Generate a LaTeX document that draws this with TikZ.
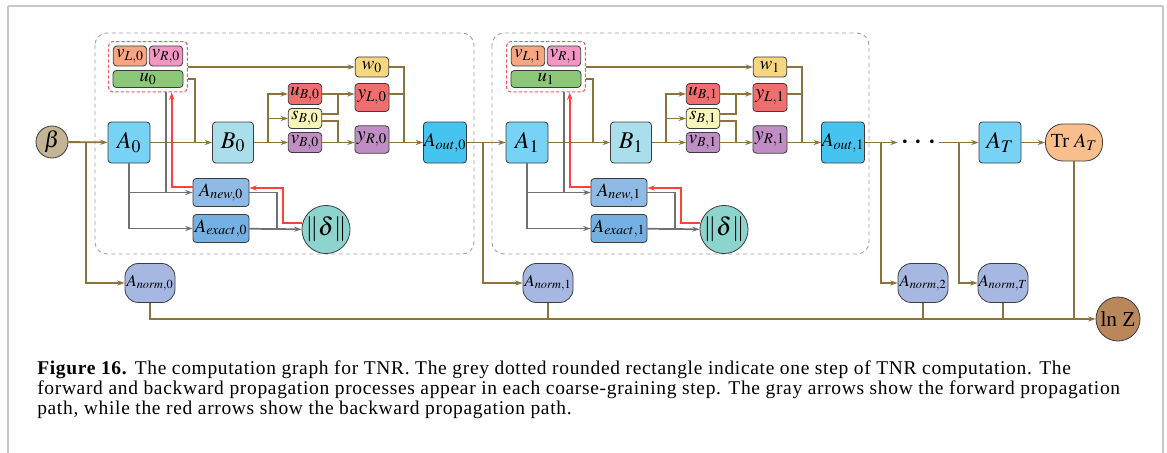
\documentclass[tikz,border=0pt]{standalone}
\usepackage{mathptmx}
\usepackage{fontspec}
\setmainfont{Liberation Serif}
\newfontfamily\capfont[LetterSpace=3.5]{Liberation Serif}
\usetikzlibrary{arrows.meta,fit,calc}
\definecolor{brn}{RGB}{140,114,60}
\definecolor{gry}{RGB}{112,112,112}
\definecolor{redl}{RGB}{250,65,60}
\definecolor{bord}{RGB}{60,60,60}
\definecolor{cbeta}{RGB}{196,180,150}
\definecolor{cA}{RGB}{120,210,245}
\definecolor{cB}{RGB}{170,222,235}
\definecolor{cAout}{RGB}{70,196,240}
\definecolor{cvL}{RGB}{247,166,130}
\definecolor{cvR}{RGB}{243,150,195}
\definecolor{cu}{RGB}{140,200,120}
\definecolor{cw}{RGB}{247,214,130}
\definecolor{cuB}{RGB}{240,110,110}
\definecolor{csB}{RGB}{249,246,185}
\definecolor{cvB}{RGB}{192,142,196}
\definecolor{cAnew}{RGB}{143,186,230}
\definecolor{cAex}{RGB}{116,176,226}
\definecolor{cdel}{RGB}{140,212,205}
\definecolor{cnorm}{RGB}{166,184,226}
\definecolor{cTr}{RGB}{248,190,140}
\definecolor{clnZ}{RGB}{185,135,90}
\definecolor{dashg}{RGB}{160,160,160}
\definecolor{dashr}{RGB}{240,90,90}
\definecolor{framec}{RGB}{200,200,200}
\begin{document}
\begin{tikzpicture}[x=0.75pt,y=-0.75pt,
  >={Stealth[length=5.5pt,width=3.8pt]},
  bx/.style={draw=bord,line width=0.6pt,rounded corners=2.5pt,inner sep=0pt},
  bigbox/.style={bx,minimum width=31.5pt,minimum height=30.75pt,font=\fontsize{18}{18}\selectfont},
  sm/.style={bx,minimum width=25pt,minimum height=15pt,font=\fontsize{14}{14}\selectfont},
  yb/.style={bx,minimum width=25.5pt,minimum height=20.5pt,font=\fontsize{15}{15}\selectfont},
  an/.style={bx,minimum width=42pt,minimum height=21pt,font=\fontsize{14}{14}\selectfont},
  nrm/.style={bx,rounded corners=10pt,minimum width=37.5pt,minimum height=29.25pt,fill=cnorm,font=\fontsize{12.5}{12.5}\selectfont},
  circ/.style={circle,draw=bord,line width=0.6pt,inner sep=0pt},
  br/.style={draw=brn,line width=1.4pt},
  brt/.style={draw=brn,line width=1pt},
  gr/.style={draw=gry,line width=1.3pt},
  rd/.style={draw=redl,line width=1.3pt},
  stepbox/.style={draw=dashg,dash pattern=on 3pt off 2.5pt,line width=0.7pt,rounded corners=9pt},
  grp/.style={draw=dashr,dash pattern=on 2.5pt off 1.5pt,line width=0.8pt,rounded corners=3pt,inner sep=3pt},
  framel/.style={draw=framec,line width=1.1pt}
]
\useasboundingbox (0,0) rectangle (1167,453);
% page frame
\draw[framel] (8,6) -- (1163,6);
\draw[framel] (8,6) -- (8,453);
\draw[framel] (1163,6) -- (1163,453);
% step boxes
\draw[stepbox] (95,33) rectangle (474,254);
\draw[stepbox] (492,33) rectangle (869,254);

% ---------- nodes ----------
\node[circ,minimum size=24pt,fill=cbeta,font=\fontsize{17}{17}\selectfont] (beta) at (52,142) {$\beta$};
% step 0
\node[bigbox,fill=cA] (A0) at (129,142.5) {$A_0$};
\node[bigbox,fill=cB,minimum width=30.75pt] (B0) at (233,142.5) {$B_0$};
\node[bigbox,fill=cAout,minimum width=32.25pt,font=\fontsize{14.5}{14.5}\selectfont] (Aout0) at (445,142.5) {$A_{out,0}$};
\node[sm,fill=cvL] (vL0) at (130,56) {$v_{L,0}$};
\node[sm,fill=cvR] (vR0) at (166,56) {$v_{R,0}$};
\node[sm,fill=cu,minimum width=52.5pt,minimum height=12.75pt] (u0) at (148,79) {$u_0$};
\node[grp,fit=(vL0)(vR0)(u0)] (g0) {};
\node[sm,fill=cw] (w0) at (372,67) {$w_0$};
\node[sm,fill=cuB,minimum height=15.75pt] (uB0) at (305,94) {$u_{B,0}$};
\node[sm,fill=csB] (sB0) at (305,118.5) {$s_{B,0}$};
\node[sm,fill=cvB] (vB0) at (305,142.5) {$v_{B,0}$};
\node[yb,fill=cuB,minimum height=21pt] (yL0) at (372,97.5) {$y_{L,0}$};
\node[yb,fill=cvB] (yR0) at (372,139.5) {$y_{R,0}$};
\node[an,fill=cAnew] (Anew0) at (221,192.5) {$A_{new,0}$};
\node[an,fill=cAex] (Aex0) at (221,228.5) {$A_{exact,0}$};
\node[circ,minimum size=31.5pt,fill=cdel,font=\fontsize{19}{19}\selectfont] (del0) at (326,229.5) {$\|\delta\|$};
\node[nrm] (An0) at (150,283) {$A_{norm,0}$};
% step 1
\node[bigbox,fill=cA] (A1) at (527,142.5) {$A_1$};
\node[bigbox,fill=cB,minimum width=30.75pt] (B1) at (631,142.5) {$B_1$};
\node[bigbox,fill=cAout,minimum width=32.25pt,font=\fontsize{14.5}{14.5}\selectfont] (Aout1) at (843,142.5) {$A_{out,1}$};
\node[sm,fill=cvL] (vL1) at (528,56) {$v_{L,1}$};
\node[sm,fill=cvR] (vR1) at (564,56) {$v_{R,1}$};
\node[sm,fill=cu,minimum width=52.5pt,minimum height=12.75pt] (u1) at (546,79) {$u_1$};
\node[grp,fit=(vL1)(vR1)(u1)] (g1) {};
\node[sm,fill=cw] (w1) at (770,67) {$w_1$};
\node[sm,fill=cuB,minimum height=15.75pt] (uB1) at (703,94) {$u_{B,1}$};
\node[sm,fill=csB] (sB1) at (703,118.5) {$s_{B,1}$};
\node[sm,fill=cvB] (vB1) at (703,142.5) {$v_{B,1}$};
\node[yb,fill=cuB,minimum height=21pt] (yL1) at (770,97.5) {$y_{L,1}$};
\node[yb,fill=cvB] (yR1) at (770,139.5) {$y_{R,1}$};
\node[an,fill=cAnew] (Anew1) at (619,192.5) {$A_{new,1}$};
\node[an,fill=cAex] (Aex1) at (619,228.5) {$A_{exact,1}$};
\node[circ,minimum size=31.5pt,fill=cdel,font=\fontsize{19}{19}\selectfont] (del1) at (724,229.5) {$\|\delta\|$};
\node[nrm] (An1) at (548,283) {$A_{norm,1}$};
% tail
\node[inner sep=0pt,minimum width=30.75pt,minimum height=10pt,font=\fontsize{26}{26}\selectfont] (dots) at (918.5,142.5) {$\cdots$};
\node[bigbox,fill=cA] (AT) at (1000,142.5) {$A_T$};
\node[bx,rounded corners=13pt,minimum width=42.75pt,minimum height=27.75pt,fill=cTr,font=\fontsize{15}{15}\selectfont] (TrAT) at (1074,142.5) {Tr $A_T$};
\node[nrm] (An2) at (923,283) {$A_{norm,2}$};
\node[nrm] (AnT) at (1003,283) {$A_{norm,T}$};
\node[circ,minimum size=33pt,fill=clnZ,font=\fontsize{16}{16}\selectfont] (lnZ) at (1118,319) {ln Z};

% ---------- helper coordinates ----------
\coordinate (J0) at (86,142.5);
\coordinate (m0) at (195,142.5);
\coordinate (s0) at (268,142.5);
\coordinate (k0) at (338,94);
\coordinate (k0b) at (338,142.5);
\coordinate (q0) at (404,142.5);
\coordinate (c0) at (165.7,192.5);
\coordinate (r0) at (171.7,187);
\coordinate (e0) at (277,228.5);
\coordinate (t0) at (282.7,188);
\coordinate (J1) at (483,142.5);
\coordinate (m1) at (593,142.5);
\coordinate (s1) at (666,142.5);
\coordinate (k1) at (736,94);
\coordinate (k1b) at (736,142.5);
\coordinate (q1) at (802,142.5);
\coordinate (c1) at (563.7,192.5);
\coordinate (r1) at (569.7,187);
\coordinate (e1) at (675,228.5);
\coordinate (t1) at (680.7,188);
\coordinate (J2) at (881,142.5);
\coordinate (J3) at (959,142.5);

% ---------- brown connectors ----------
\draw[br,->] (beta) -- (A0);
\draw[brt,->] (J0) |- (An0);
\draw[br,->] (A0) -- (B0);
\draw[br] (g0.east |- u0) -| (m0);
\draw[br,->] (g0.east |- w0) -- (w0);
\draw[br,->] (B0) -- (vB0);
\draw[br,->] (s0) |- (uB0);
\draw[br,->] (s0) |- (sB0);
\draw[br,->] (uB0) -- (uB0 -| yL0.west);
\draw[br] ([yshift=3.4pt]sB0.east) -| (k0);
\draw[br] ([yshift=-1.9pt]sB0.east) -| (k0b);
\draw[br,->] (vB0) -- (vB0 -| yR0.west);
\draw[br] (w0) -| (q0);
\draw[br] (yL0.east |- uB0) -- (q0 |- uB0);
\draw[br,->] (yR0.east |- vB0) -- (Aout0);
\draw[br,->] (Aout0) -- (A1);
\draw[brt,->] (J1) |- (An1);

\draw[br,->] (A1) -- (B1);
\draw[br] (g1.east |- u1) -| (m1);
\draw[br,->] (g1.east |- w1) -- (w1);
\draw[br,->] (B1) -- (vB1);
\draw[br,->] (s1) |- (uB1);
\draw[br,->] (s1) |- (sB1);
\draw[br,->] (uB1) -- (uB1 -| yL1.west);
\draw[br] ([yshift=3.4pt]sB1.east) -| (k1);
\draw[br] ([yshift=-1.9pt]sB1.east) -| (k1b);
\draw[br,->] (vB1) -- (vB1 -| yR1.west);
\draw[br] (w1) -| (q1);
\draw[br] (yL1.east |- uB1) -- (q1 |- uB1);
\draw[br,->] (yR1.east |- vB1) -- (Aout1);

\draw[br,->] (Aout1) -- (dots);
\draw[brt,->] (J2) |- (An2);
\draw[br,->] (dots) -- (AT);
\draw[brt,->] (J3) |- (AnT);
\draw[br,->] (AT) -- (TrAT);

\draw[br,->] (An0) |- (lnZ);
\draw[brt] (An1) -- (An1 |- lnZ);
\draw[brt] (An2) -- (An2 |- lnZ);
\draw[brt] (AnT) -- (AnT |- lnZ);
\draw[brt] (TrAT) -- (TrAT |- lnZ);

% ---------- gray forward ----------
\draw[gr,->] (A0) |- (Aex0);
\draw[gr,->] (A0.south |- Anew0) -- (Anew0);
\draw[gr] (g0.south -| c0) -- (c0);
\draw[gr] (Anew0) -| (e0);
\draw[gr,->] (Aex0) -- (del0);
\draw[gr,->] (A1) |- (Aex1);
\draw[gr,->] (A1.south |- Anew1) -- (Anew1);
\draw[gr] (g1.south -| c1) -- (c1);
\draw[gr] (Anew1) -| (e1);
\draw[gr,->] (Aex1) -- (del1);

% ---------- red backward ----------
\draw[rd,->] (Anew0.west |- r0) -- (r0) -- (g0.south -| r0);
\draw[rd,->] (del0.165) -| (t0) -- (t0 -| Anew0.east);
\draw[rd,->] (Anew1.west |- r1) -- (r1) -- (g1.south -| r1);
\draw[rd,->] (del1.165) -| (t1) -- (t1 -| Anew1.east);

% ---------- caption ----------
\node[anchor=north west,inner sep=0pt,align=left,font=\capfont\fontsize{14.6}{14.8}\selectfont] (cap) at (37,361)
{\textbf{Figure 16.} The computation graph for TNR. The grey dotted rounded rectangle indicate one step of TNR computation. The\\
forward and backward propagation processes appear in each coarse-graining step. The gray arrows show the forward propagation\\
path, while the red arrows show the backward propagation path.};
\end{tikzpicture}
\end{document}
